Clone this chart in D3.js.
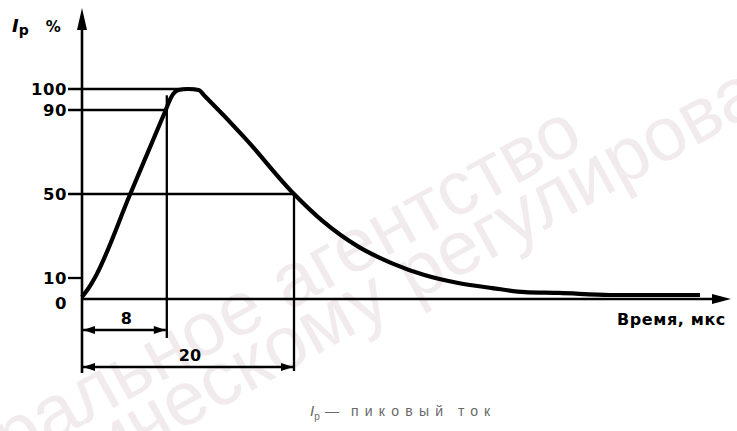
<!DOCTYPE html>
<html>
<head>
<meta charset="utf-8">
<script src="https://cdn.jsdelivr.net/npm/d3@7"></script>
<style>
  body { margin: 0; background: #fff; }
  svg { display: block; }
</style>
</head>
<body>
<svg id="chart" width="737" height="431"></svg>
<script>
// current impulse 8/20 us
const timeUs = [0, 0.6, 1.2, 4.5, 7.9, 8.4, 9.1, 10, 11, 11.6, 15.4, 20, 22.8, 26.1, 29.2, 32.3, 35.5, 38.7, 41.8, 45, 49.8, 58.3];
const currentPct = [1, 5, 10, 49.4, 90, 96, 99.5, 100, 99.5, 96.5, 76.5, 50, 36.7, 24.8, 17.1, 11.4, 7.6, 5.2, 3.3, 2.9, 1.9, 1.9];

const yTicks = [0, 10, 50, 90, 100];
const yTickLabels = ["0", "10", "50", "90", "100"];
const levelValues = [100, 90, 50];
const levelEndTimes = [10.8, 8, 20];
const markerTimes = [8, 20];
const markerLabels = ["8", "20"];

const svg = d3.select("#chart");

const x = d3.scaleLinear().domain([0, 60]).range([82, 718]);
const y = d3.scaleLinear().domain([0, 100]).range([299, 89]);

const ink = "#000";

// watermark
const wm = svg.append("g")
  .attr("fill", "#f2ebed")
  .attr("font-family", "'Liberation Sans', Arial, sans-serif")
  .attr("font-size", 76);
wm.append("text")
  .attr("transform", "translate(586,146) rotate(-29)")
  .attr("text-anchor", "end")
  .text("Федеральное агентство");
wm.append("text")
  .attr("transform", "translate(394,312) rotate(-29)")
  .attr("text-anchor", "end")
  .text("по техническому");
wm.append("text")
  .attr("transform", "translate(414,302) rotate(-29)")
  .attr("text-anchor", "start")
  .text("регулированию");

// reference lines
const lines = svg.append("g").attr("stroke", ink).attr("stroke-width", 2.3);
levelValues.forEach((v, i) => {
  lines.append("line")
    .attr("x1", 68).attr("x2", x(levelEndTimes[i]))
    .attr("y1", y(v)).attr("y2", y(v));
});
lines.append("line")
  .attr("x1", 68).attr("x2", x(0))
  .attr("y1", y(10)).attr("y2", y(10));

// vertical markers
const markerTop = [97, 50];
const markerBottom = [338, 371];
markerTimes.forEach((t, i) => {
  lines.append("line")
    .attr("x1", x(t)).attr("x2", x(t))
    .attr("y1", y(markerTop[i])).attr("y2", markerBottom[i]);
});

// axes
const axes = svg.append("g").attr("stroke", ink).attr("stroke-width", 2.6);
axes.append("line").attr("x1", x(0)).attr("x2", x(0)).attr("y1", 20).attr("y2", 373);
axes.append("line").attr("x1", x(0)).attr("x2", 718).attr("y1", y(0)).attr("y2", y(0));
svg.append("path").attr("fill", ink)
  .attr("d", `M${x(0)},8 L${x(0) + 5},30 L${x(0) - 5},30 Z`);
svg.append("path").attr("fill", ink)
  .attr("d", `M731,${y(0)} L712,${y(0) - 5} L712,${y(0) + 5} Z`);

// dimension lines
const dimY = [330, 367];
markerTimes.forEach((t, i) => {
  const x0 = x(0) + 1, x1 = x(t) - 1, yy = dimY[i];
  svg.append("line").attr("stroke", ink).attr("stroke-width", 2.3)
    .attr("x1", x0).attr("x2", x1).attr("y1", yy).attr("y2", yy);
  svg.append("path").attr("fill", ink)
    .attr("d", `M${x0},${yy} L${x0 + 12},${yy - 4} L${x0 + 12},${yy + 4} Z`);
  svg.append("path").attr("fill", ink)
    .attr("d", `M${x1},${yy} L${x1 - 12},${yy - 4} L${x1 - 12},${yy + 4} Z`);
  svg.append("text")
    .attr("x", (x0 + x1) / 2 + 2).attr("y", yy - 6)
    .attr("text-anchor", "middle")
    .attr("font-family", "'DejaVu Sans', sans-serif")
    .attr("font-weight", "bold")
    .attr("font-size", 16)
    .text(markerLabels[i]);
});

// curve
const pts = timeUs.map((t, i) => [t, currentPct[i]]);
svg.append("path")
  .datum(pts)
  .attr("fill", "none")
  .attr("stroke", ink)
  .attr("stroke-width", 4.2)
  .attr("stroke-linejoin", "round")
  .attr("d", d3.line().x(d => x(d[0])).y(d => y(d[1])).curve(d3.curveMonotoneX));

// y tick labels
svg.append("g")
  .attr("font-family", "'DejaVu Sans', sans-serif")
  .attr("font-weight", "bold")
  .attr("font-size", 16.5)
  .attr("text-anchor", "end")
  .selectAll("text")
  .data(yTicks)
  .join("text")
  .attr("x", 67)
  .attr("y", d => y(d) + (d === 0 ? 10 : 6))
  .attr("letter-spacing", 0.5)
  .text((d, i) => yTickLabels[i]);

// axis titles
const yt = svg.append("text")
  .attr("x", 12).attr("y", 32)
  .attr("font-family", "'DejaVu Sans', sans-serif")
  .attr("font-weight", "bold")
  .attr("font-size", 18);
yt.append("tspan").attr("font-style", "italic").text("I");
yt.append("tspan").attr("font-size", 14).attr("dy", 3).text("р");
yt.append("tspan").attr("dy", -3).attr("dx", 17).attr("font-size", 15).text("%");

svg.append("text")
  .attr("x", 617).attr("y", 325)
  .attr("font-family", "'DejaVu Sans', sans-serif")
  .attr("font-weight", "bold")
  .attr("font-size", 16)
  .attr("letter-spacing", 0.6)
  .text("Время, мкс");

// caption
const cap = svg.append("text")
  .attr("x", 310).attr("y", 416)
  .attr("fill", "#686868")
  .attr("font-family", "'Liberation Sans', Arial, sans-serif")
  .attr("font-size", 14);
cap.append("tspan").attr("font-style", "italic").attr("font-size", 15).text("I");
cap.append("tspan").attr("font-size", 10).attr("dy", 4).text("р");
cap.append("tspan").attr("dy", -4).attr("x", 325).attr("textLength", 20).text("—");
cap.append("tspan").attr("x", 351).attr("textLength", 92).text("пиковый");
cap.append("tspan").attr("x", 458).attr("textLength", 32).text("ток");
</script>
</body>
</html>
